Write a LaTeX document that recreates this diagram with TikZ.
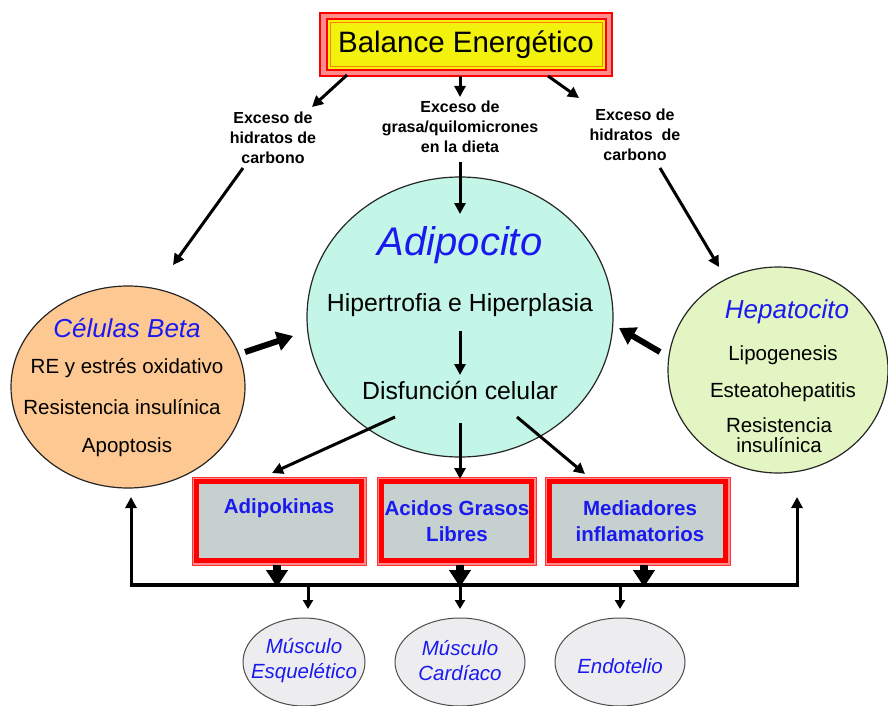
\documentclass[tikz,border=0pt]{standalone}
\usepackage{fontspec}
\setmainfont{Liberation Sans}
\usetikzlibrary{arrows.meta,shapes.geometric}
\definecolor{peach}{HTML}{FDC891}
\definecolor{aqua}{HTML}{C4F6E8}
\definecolor{lgreen}{HTML}{E2F5C2}
\definecolor{boxgray}{HTML}{C6D1CF}
\definecolor{tblue}{HTML}{1A1AF0}
\definecolor{pinkred}{HTML}{FF8C8C}
\definecolor{ellgray}{HTML}{EDEDF0}
\definecolor{byellow}{HTML}{F2F20C}
\begin{document}
\begin{tikzpicture}[x=1pt,y=-1pt,
  arr/.style={line width=3pt,-{Triangle[length=11pt,width=11pt]}},
  fat/.style={line width=6pt,-{Triangle[length=16pt,width=19pt]}},
  boxarr/.style={line width=8pt,-{Triangle[length=17pt,width=21pt]}},
  cell/.style={ellipse,draw=black!85,line width=1.2pt,inner sep=0pt},
  organ/.style={ellipse,draw=black!70,line width=1pt,fill=ellgray,inner sep=0pt,minimum height=88pt},
  txt/.style={inner sep=0pt,align=center,font=\fontsize{20.5}{24}\selectfont},
  ttl/.style={inner sep=0pt,align=center,text=tblue,font=\fontsize{26}{30}\selectfont\itshape},
  lbl/.style={inner sep=0pt,align=center,font=\fontsize{16}{20}\selectfont\bfseries},
  outerbox/.style={draw=red!80,line width=1pt,fill=pinkred,minimum height=88pt,inner sep=0pt},
  innerbox/.style={draw=red,line width=5pt,fill=boxgray,minimum height=79pt,inner sep=0pt},
  boxtxt/.style={inner sep=0pt,align=center,text=tblue,font=\fontsize{20.5}{26}\selectfont\bfseries},
  organtxt/.style={inner sep=0pt,align=center,text=tblue,font=\fontsize{20.5}{25}\selectfont\itshape}
]
\useasboundingbox (0,0) rectangle (888,706);

% ---- top box
\node[draw=red,line width=1.5pt,fill=pinkred,minimum width=292pt,minimum height=63pt,inner sep=0pt] (bal) at (466,44.5) {};
\node[draw=red,line width=2pt,fill=byellow,minimum width=279pt,minimum height=51pt,inner sep=0pt] (balin) at (466,44.5) {};
\node[draw=orange,line width=1pt,minimum width=272pt,minimum height=44pt,inner sep=0pt,font=\fontsize{29.5}{32}\selectfont] (baltxt) at (466,44.5) {Balance Energético};

% ---- labels
\node[lbl] (lblL) at (273,138) {Exceso de\\hidratos de\\carbono};
\node[lbl] (lblM) at (460,127) {Exceso de\\grasa/quilomicrones\\en la dieta};
\node[lbl] (lblR) at (635,135) {Exceso de\\hidratos\ \ de\\carbono};

% ---- cells
\node[cell,fill=peach,minimum width=234pt,minimum height=202pt] (beta) at (128,387) {};
\node[cell,fill=aqua,minimum width=306pt,minimum height=280pt] (adipo) at (460,317) {};
\node[cell,fill=lgreen,minimum width=220pt,minimum height=206pt] (hepa) at (778,370) {};

\node[ttl] (betaT) at (127,328) {Células Beta};
\node[txt] (beta1) at (127,368) {RE y estrés oxidativo};
\node[txt] (beta2) at (122,407) {Resistencia insulínica};
\node[txt] (beta3) at (127,447) {Apoptosis};

\node[ttl,font=\fontsize{40}{44}\selectfont\itshape] (adipoT) at (460,245) {Adipocito};
\node[txt,font=\fontsize{24.8}{28}\selectfont] (hiper) at (460,305) {Hipertrofia e Hiperplasia};
\node[txt,font=\fontsize{24.8}{28}\selectfont] (disf) at (460,390) {Disfunción celular};

\node[ttl] (hepaT) at (787,312) {Hepatocito};
\node[txt] (hepa1) at (783,355) {Lipogenesis};
\node[txt] (hepa2) at (783,392) {Esteatohepatitis};
\node[txt,font=\fontsize{20.5}{20}\selectfont] (hepa3) at (779,435) {Resistencia\\insulínica};

% ---- boxes
\node[outerbox,minimum width=174pt] (b1o) at (279,521) {};
\node[innerbox,minimum width=165pt] (b1) at (279,521) {};
\node[boxtxt] (b1t) at (279,508) {Adipokinas};
\node[outerbox,minimum width=159pt] (b2o) at (456.5,521) {};
\node[innerbox,minimum width=150pt] (b2) at (456.5,521) {};
\node[boxtxt] (b2t) at (457,521) {Acidos Grasos\\Libres};
\node[outerbox,minimum width=185pt] (b3o) at (637.5,521) {};
\node[innerbox,minimum width=176pt] (b3) at (637.5,521) {};
\node[boxtxt] (b3t) at (640,521) {Mediadores\\inflamatorios};

% ---- organs
\node[organ,minimum width=122pt] (musE) at (304,662) {};
\node[organ,minimum width=130pt] (musC) at (460,662) {};
\node[organ,minimum width=130pt] (endo) at (620,662) {};
\node[organtxt] (musEt) at (304,660.5) {Músculo\\Esquelético};
\node[organtxt] (musCt) at (460,660.5) {Músculo\\Cardíaco};
\node[organtxt] (endot) at (620,666) {Endotelio};

% ---- coordinates
\coordinate (t1) at (347,75);  \coordinate (t1e) at (312,107);
\coordinate (t2) at (460,76);  \coordinate (t2e) at (460,97);
\coordinate (t3) at (548,76);  \coordinate (t3e) at (579,98);
\coordinate (d1) at (243,168); \coordinate (d1e) at (173,265);
\coordinate (d2) at (460,162); \coordinate (d2e) at (460,214);
\coordinate (d3) at (660,168); \coordinate (d3e) at (719,267);
\coordinate (f1) at (245,352); \coordinate (f1e) at (293,336);
\coordinate (f2) at (660,352); \coordinate (f2e) at (619,328);
\coordinate (h1) at (460,331); \coordinate (h1e) at (460,375);
\coordinate (o1) at (395,417); \coordinate (o1e) at (272,473);
\coordinate (o2) at (460,423); \coordinate (o2e) at (460,479);
\coordinate (o3) at (517,417); \coordinate (o3e) at (585,474);
\coordinate (busL) at (131,585); \coordinate (busR) at (797,585);
\coordinate (upL) at (131,497); \coordinate (upR) at (797,497);
\coordinate (s1) at (277,565); \coordinate (s1e) at (277,587);
\coordinate (s2) at (460,565); \coordinate (s2e) at (460,587);
\coordinate (s3) at (644,565); \coordinate (s3e) at (644,587);
\coordinate (m1) at (308,585); \coordinate (m1e) at (308,609);
\coordinate (m2) at (460,585); \coordinate (m2e) at (460,609);
\coordinate (m3) at (620,585); \coordinate (m3e) at (620,609);

% ---- connectors
\draw[arr] (t1) -- (t1e);
\draw[arr] (t2) -- (t2e);
\draw[arr] (t3) -- (t3e);
\draw[arr] (d1) -- (d1e);
\draw[arr] (d2) -- (d2e);
\draw[arr] (d3) -- (d3e);
\draw[fat] (f1) -- (f1e);
\draw[fat] (f2) -- (f2e);
\draw[arr] (h1) -- (h1e);
\draw[arr] (o1) -- (o1e);
\draw[arr] (o2) -- (o2e);
\draw[arr] (o3) -- (o3e);
\draw[line width=3.5pt] (busL) -- (busR);
\draw[arr,line cap=rect] (busL) -- (upL);
\draw[arr,line cap=rect] (busR) -- (upR);
\draw[boxarr] (s1) -- (s1e);
\draw[boxarr] (s2) -- (s2e);
\draw[boxarr] (s3) -- (s3e);
\draw[arr,-{Triangle[length=9pt,width=10pt]}] (m1) -- (m1e);
\draw[arr,-{Triangle[length=9pt,width=10pt]}] (m2) -- (m2e);
\draw[arr,-{Triangle[length=9pt,width=10pt]}] (m3) -- (m3e);
\end{tikzpicture}
\end{document}
